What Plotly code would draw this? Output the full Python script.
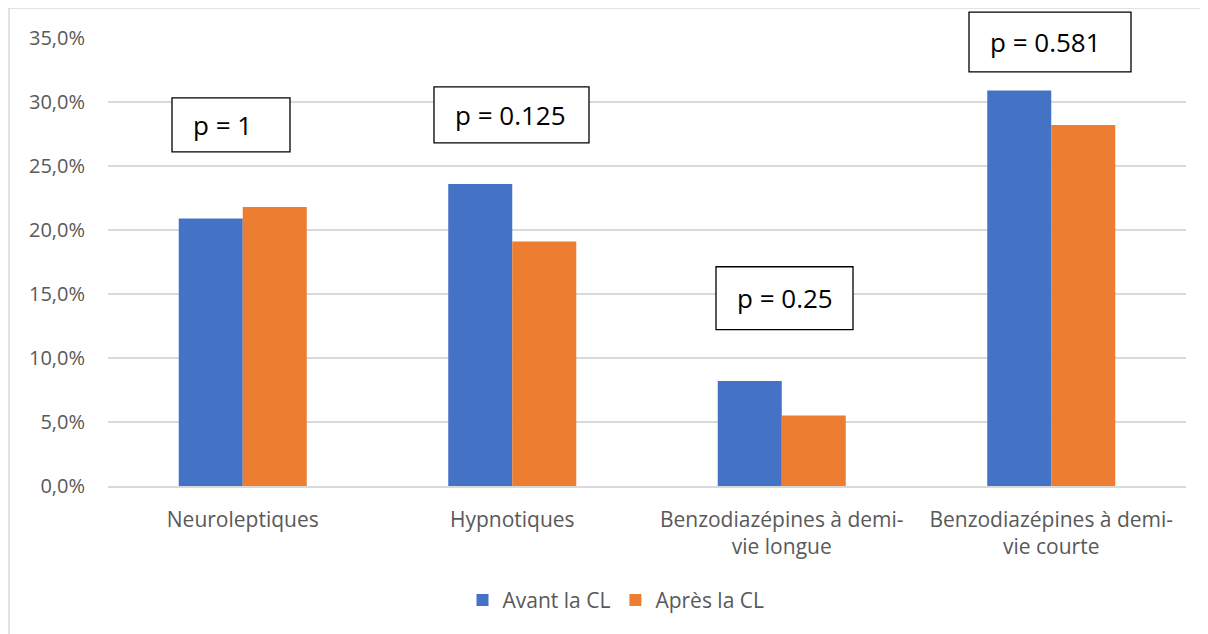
import plotly.graph_objects as go

categories = ["Neuroleptiques", "Hypnotiques",
              "Benzodiazépines à demi-<br>vie longue",
              "Benzodiazépines à demi-<br>vie courte"]
avant = [0.209, 0.236, 0.082, 0.309]
apres = [0.218, 0.191, 0.055, 0.282]
series_names = ["Avant la CL", "Après la CL"]
tick_vals = [0, 0.05, 0.10, 0.15, 0.20, 0.25, 0.30, 0.35]
tick_text = ["0,0%", "5,0%", "10,0%", "15,0%", "20,0%", "25,0%", "30,0%", "35,0%"]
p_labels = ["p = 1", "p = 0.125", "p = 0.25", "p = 0.581"]

# page has an 8px body margin -> figure is 1200x626
OFF = 8
W, H = 1200, 626
PX0, PX1 = 108 - OFF, 1186 - OFF        # plot area (figure px)
PY0, PY1 = 38 - OFF, 486.5 - OFF
L, R, T, B = PX0, W - PX1, PY0, H - PY1
PW = PX1 - PX0
PH = PY1 - PY0

def px(x):  # x in screenshot pixels -> paper
    return (x - OFF - PX0) / PW

def py(y):  # y in screenshot pixels -> paper
    return (PY1 - (y - OFF)) / PH

FONT = "Open Sans"
GRAY = "#595959"

fig = go.Figure()
fig.add_trace(go.Bar(x=categories, y=avant, name=series_names[0], marker_color="#4472C4",
                     marker_line_width=0))
fig.add_trace(go.Bar(x=categories, y=apres, name=series_names[1], marker_color="#ED7D31",
                     marker_line_width=0))

# p-value boxes (screenshot pixel boxes: x0, y0, x1, y1)
boxes = [(172, 98, 290, 152), (434, 87, 589, 143), (716, 267, 853, 330), (969, 12, 1131, 72)]
shapes = []
annotations = []
for (x0, y0, x1, y1), lab in zip(boxes, p_labels):
    shapes.append(dict(type="rect", xref="paper", yref="paper",
                       x0=px(x0), x1=px(x1), y0=py(y1), y1=py(y0),
                       line=dict(color="#000000", width=1.3), fillcolor="white", layer="above"))
    annotations.append(dict(xref="paper", yref="paper", x=px(x0 + 19), y=py((y0 + y1) / 2),
                            xanchor="left", yanchor="middle", text=lab, showarrow=False,
                            font=dict(family=FONT, size=26, color="#000000")))

# outer light border (chart area frame)
shapes.append(dict(type="line", xref="paper", yref="paper", x0=px(9), x1=px(1220),
                   y0=py(8), y1=py(8), line=dict(color="#d9d9d9", width=1.5)))
shapes.append(dict(type="line", xref="paper", yref="paper", x0=px(9), x1=px(9),
                   y0=py(8), y1=py(650), line=dict(color="#d9d9d9", width=1.5)))

fig.update_layout(
    width=W, height=H,
    margin=dict(l=L, r=R, t=T, b=B, autoexpand=False),
    paper_bgcolor="white", plot_bgcolor="white",
    barmode="group", bargap=0.525, bargroupgap=0,
    font=dict(family=FONT, size=21, color=GRAY),
    showlegend=True,
    legend=dict(orientation="h", x=px(616), y=py(601), xanchor="center", yanchor="middle",
                font=dict(family=FONT, size=21, color=GRAY), itemwidth=30,
                traceorder="normal"),
    shapes=shapes, annotations=annotations,
)
fig.update_xaxes(showgrid=False, showline=True, linecolor="#d9d9d9", linewidth=1.5,
                 ticks="", tickfont=dict(family=FONT, size=21, color=GRAY),
                 ticklabelstandoff=14, fixedrange=True)
fig.update_yaxes(range=[0, 0.35], tickvals=tick_vals, ticktext=tick_text,
                 showgrid=True, gridcolor="#d9d9d9", gridwidth=1.5, zeroline=False,
                 showline=False, ticks="", tickfont=dict(family=FONT, size=20, color=GRAY),
                 ticklabelstandoff=22, fixedrange=True)

fig.write_html("out.html")
